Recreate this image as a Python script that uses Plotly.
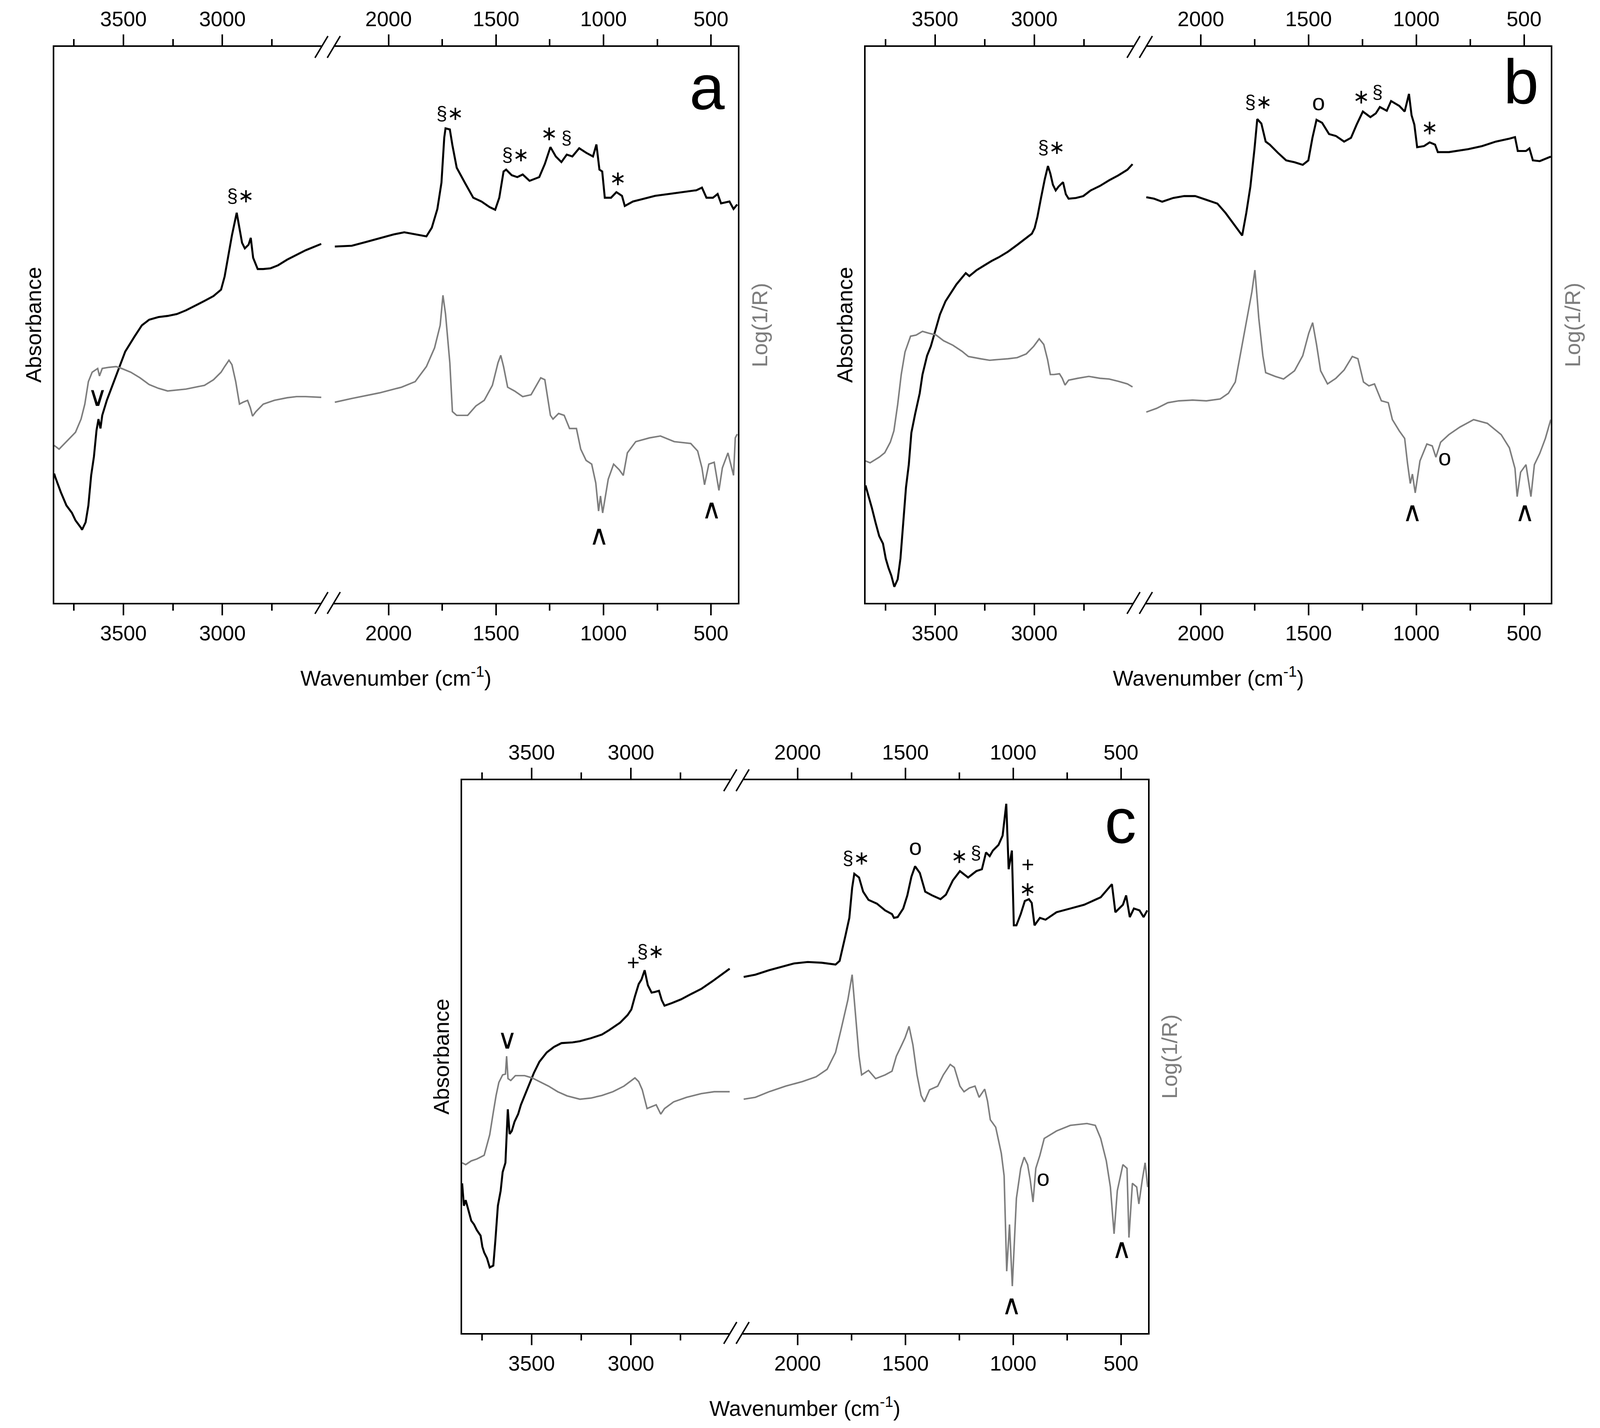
import plotly.graph_objects as go

# ---------------- DATA (wavenumber in cm-1, intensity in arbitrary units) ----------------
# Panel a
a_abs_hi_wn = [3850,3844,3816,3788,3760,3742,3714,3709,3691,3677,3663,3649,3636,3626,3616,3607,3584,3556,3528,3491,3444,3407,3370,3323,3277,3230,3184,3138,3091,3045,3007,2989,2970,2952,2928,2914,2901,2887,2868,2857,2845,2822,2794,2757,2719,2673,2626,2580,2533,2501]
a_abs_hi = [345,335,295,260,240,220,200,195,215,260,340,390,460,490,465,500,540,580,620,670,710,740,755,762,765,770,780,792,805,818,835,870,930,980,1040,1000,960,945,955,973,920,890,890,892,900,915,928,940,950,957]
a_ref_hi_wn = [3850,3825,3788,3742,3714,3695,3677,3658,3630,3621,3607,3574,3537,3509,3463,3416,3370,3323,3277,3230,3184,3138,3091,3045,3007,2989,2967,2952,2933,2914,2896,2873,2859,2848,2831,2794,2738,2673,2626,2580,2501]
a_ref_hi = [420,410,430,455,490,530,590,615,625,605,625,628,630,625,615,600,582,572,565,568,570,575,580,595,615,630,647,635,590,530,535,540,520,498,510,530,540,547,550,550,548]
a_abs_lo_wn = [2250,2171,2106,2042,1978,1927,1876,1824,1799,1773,1754,1741,1735,1715,1703,1683,1645,1606,1568,1530,1504,1485,1465,1453,1427,1401,1376,1344,1299,1273,1247,1222,1196,1171,1145,1113,1081,1049,1033,1019,1006,994,965,940,914,901,863,760,696,632,568,542,521,491,469,453,414,395,378]
a_abs_lo = [950,952,962,972,982,988,982,977,1000,1050,1120,1240,1265,1262,1220,1160,1120,1080,1070,1055,1048,1080,1150,1155,1140,1135,1142,1125,1135,1170,1215,1190,1175,1195,1190,1212,1200,1190,1222,1155,1150,1080,1080,1095,1085,1058,1070,1085,1090,1095,1100,1107,1080,1080,1090,1065,1070,1050,1062]
a_ref_lo_wn = [2250,2171,2042,1940,1876,1824,1786,1760,1747,1735,1715,1703,1683,1632,1594,1555,1517,1491,1478,1465,1446,1414,1376,1337,1292,1273,1247,1235,1209,1183,1158,1126,1106,1081,1055,1036,1023,1014,1004,978,953,927,908,889,850,786,735,671,594,562,542,530,510,485,463,447,421,408,395,387,378]
a_ref_lo = [535,545,560,575,590,630,680,740,820,770,640,510,500,500,525,540,580,640,660,630,575,565,550,555,600,595,500,490,505,500,465,465,410,380,370,320,245,285,240,330,370,355,340,400,430,440,445,430,425,405,360,315,370,375,300,360,400,370,340,440,450]

# Panel b
b_abs_hi_wn = [3850,3836,3818,3799,3781,3762,3748,3734,3720,3705,3688,3674,3660,3646,3632,3619,3600,3577,3563,3540,3521,3498,3475,3447,3419,3392,3364,3345,3327,3290,3253,3216,3179,3132,3086,3049,3012,2998,2984,2966,2947,2931,2919,2906,2892,2878,2855,2841,2827,2790,2753,2716,2669,2623,2577,2531,2505]
b_abs_hi = [313,288,253,213,178,158,118,93,73,43,63,118,218,308,368,453,503,558,608,658,683,728,768,803,826,848,866,878,870,886,898,910,920,935,953,968,983,998,1028,1078,1128,1163,1143,1113,1098,1108,1120,1088,1076,1078,1083,1098,1110,1125,1138,1153,1168]
b_ref_hi_wn = [3850,3827,3781,3753,3725,3707,3688,3670,3651,3632,3623,3595,3563,3531,3494,3457,3410,3364,3332,3271,3225,3179,3132,3086,3040,3003,2975,2952,2933,2919,2901,2873,2859,2845,2827,2781,2725,2669,2623,2577,2531,2505]
b_ref_hi = [378,373,388,400,428,458,528,608,668,698,710,713,723,718,713,698,686,670,656,650,646,648,650,653,663,683,703,688,648,608,608,610,598,580,593,598,603,598,596,590,583,575]
b_abs_lo_wn = [2253,2217,2179,2128,2077,2026,1974,1923,1885,1847,1808,1789,1770,1751,1738,1719,1699,1680,1642,1604,1565,1527,1501,1482,1463,1437,1405,1373,1335,1303,1277,1248,1213,1188,1169,1137,1117,1079,1054,1034,1022,1009,996,964,938,913,900,849,759,695,631,567,542,529,491,475,459,427,376]
b_abs_lo = [1080,1076,1068,1078,1083,1083,1073,1063,1038,1008,978,1038,1108,1208,1288,1276,1228,1220,1198,1178,1173,1166,1178,1238,1286,1278,1248,1243,1228,1238,1273,1308,1293,1303,1320,1310,1336,1323,1308,1355,1298,1273,1213,1216,1226,1220,1200,1200,1208,1216,1228,1236,1240,1203,1203,1210,1178,1176,1188]
b_ref_lo_wn = [2253,2205,2153,2102,2038,1974,1910,1872,1840,1808,1783,1763,1749,1731,1712,1699,1655,1616,1565,1527,1499,1481,1463,1444,1412,1373,1335,1297,1271,1245,1220,1194,1162,1130,1111,1079,1054,1041,1028,1018,1005,983,951,926,909,887,849,798,734,670,606,568,542,532,516,491,468,452,427,401,376]
b_ref_lo = [508,518,533,538,540,538,543,558,588,688,768,828,886,758,658,613,603,596,618,658,718,746,688,618,583,598,620,656,650,588,578,583,538,533,488,458,438,373,318,343,293,378,423,418,388,428,448,468,488,478,448,413,358,283,348,368,283,368,398,438,488]

# Panel c
c_abs_hi_wn = [3850,3841,3832,3818,3804,3790,3776,3757,3748,3739,3725,3711,3693,3683,3670,3656,3646,3632,3626,3620,3611,3600,3586,3568,3554,3535,3517,3489,3461,3424,3387,3350,3294,3257,3202,3146,3109,3054,3017,2998,2980,2961,2947,2931,2915,2896,2878,2859,2845,2831,2794,2748,2702,2646,2591,2535,2503]
c_abs_hi = [400,340,355,325,300,290,275,260,230,215,200,175,180,245,340,380,430,455,540,598,532,540,565,585,610,635,660,695,725,750,765,775,777,780,788,798,810,830,850,865,900,933,945,970,930,910,912,915,890,875,882,892,905,920,940,962,974]
c_ref_hi_wn = [3850,3832,3804,3776,3739,3711,3693,3679,3665,3646,3632,3626,3619,3605,3582,3535,3498,3461,3415,3369,3322,3257,3202,3146,3091,3035,2998,2980,2961,2943,2919,2896,2873,2850,2831,2785,2720,2646,2581,2503]
c_ref_hi = [455,450,460,465,475,530,590,635,670,690,692,740,680,675,688,688,682,672,660,645,634,625,628,635,645,660,675,682,672,650,600,605,610,585,600,618,630,640,645,645]
c_abs_lo_wn = [2250,2196,2132,2068,2017,1953,1888,1824,1805,1779,1760,1747,1737,1715,1696,1671,1632,1594,1562,1553,1536,1510,1491,1472,1455,1433,1408,1376,1337,1312,1280,1247,1209,1171,1145,1126,1109,1094,1068,1049,1032,1021,1006,997,985,965,946,927,914,901,876,850,799,735,671,594,542,526,491,476,459,440,414,395,378]
c_abs_lo = [952,958,970,980,988,992,990,985,995,1060,1110,1190,1228,1218,1180,1158,1148,1130,1120,1110,1112,1135,1170,1220,1248,1230,1180,1170,1160,1172,1210,1235,1218,1235,1240,1285,1275,1290,1305,1330,1415,1240,1290,1090,1090,1120,1155,1160,1150,1090,1110,1105,1125,1135,1145,1165,1200,1125,1145,1170,1112,1135,1130,1112,1130]
c_ref_lo_wn = [2250,2196,2132,2055,1978,1914,1863,1824,1799,1767,1747,1732,1715,1703,1671,1638,1594,1562,1542,1517,1501,1483,1465,1446,1427,1412,1388,1350,1324,1292,1273,1247,1228,1203,1177,1158,1132,1119,1106,1081,1055,1042,1030,1017,1004,985,965,949,933,921,908,895,876,856,799,735,658,619,594,568,549,532,517,491,472,463,447,427,417,401,388,376]
c_ref_lo = [625,630,645,660,672,685,705,750,810,890,958,860,740,690,702,680,690,700,740,770,790,820,770,690,635,618,650,660,690,718,710,660,645,655,660,630,652,620,570,550,480,420,165,290,125,360,440,470,450,410,350,440,475,520,540,555,560,555,520,460,390,265,380,450,440,255,400,390,345,410,455,390]

# Axis ticks
HI_MAJOR = [3500, 3000]
HI_MINOR = [3750, 3250, 2750]
LO_MAJOR = [2000, 1500, 1000, 500]
LO_MINOR = [1750, 1250, 750]

# Peak markers: (panel, segment, wavenumber, intensity, symbol)
MARKS = [
    ('a', 'hi', 3632, 550, '∨'), ('a', 'hi', 2908, 1085, '§∗'),
    ('a', 'lo', 1715, 1305, '§∗'), ('a', 'lo', 1408, 1195, '§∗'), ('a', 'lo', 1254, 1252, '∗'),
    ('a', 'lo', 1171, 1240, '§'), ('a', 'lo', 933, 1132, '∗'), ('a', 'lo', 1021, 180, '∧'), ('a', 'lo', 497, 250, '∧'),
    ('b', 'hi', 2912, 1213, '§∗'), ('b', 'lo', 1731, 1333, '§∗'), ('b', 'lo', 1454, 1333, 'o'),
    ('b', 'lo', 1256, 1348, '∗'), ('b', 'lo', 1179, 1360, '§'), ('b', 'lo', 938, 1266, '∗'),
    ('b', 'lo', 868, 388, 'o'), ('b', 'lo', 1019, 243, '∧'), ('b', 'lo', 497, 243, '∧'),
    ('c', 'hi', 3623, 785, '∨'), ('c', 'hi', 2989, 990, '+'), ('c', 'hi', 2901, 1020, '§∗'),
    ('c', 'lo', 1728, 1270, '§∗'), ('c', 'lo', 1453, 1300, 'o'), ('c', 'lo', 1250, 1275, '∗'),
    ('c', 'lo', 1173, 1285, '§'), ('c', 'lo', 933, 1252, '+'), ('c', 'lo', 933, 1188, '∗'),
    ('c', 'lo', 860, 415, 'o'), ('c', 'lo', 1008, 75, '∧'), ('c', 'lo', 497, 225, '∧'),
]
LETTERS = [('a', 517, 1375), ('b', 514, 1388), ('c', 503, 1370)]

DATA = {
    'a': dict(abs_hi=(a_abs_hi_wn, a_abs_hi), abs_lo=(a_abs_lo_wn, a_abs_lo),
              ref_hi=(a_ref_hi_wn, a_ref_hi), ref_lo=(a_ref_lo_wn, a_ref_lo)),
    'b': dict(abs_hi=(b_abs_hi_wn, b_abs_hi), abs_lo=(b_abs_lo_wn, b_abs_lo),
              ref_hi=(b_ref_hi_wn, b_ref_hi), ref_lo=(b_ref_lo_wn, b_ref_lo)),
    'c': dict(abs_hi=(c_abs_hi_wn, c_abs_hi), abs_lo=(c_abs_lo_wn, c_abs_lo),
              ref_hi=(c_ref_hi_wn, c_ref_hi), ref_lo=(c_ref_lo_wn, c_ref_lo)),
}

# ---------------- LAYOUT ----------------
S = 1 / 1.08   # pixel scale (figure fills the browser viewport)
PANEL_BOX = {'a': (0.0320, 0.4610, 0.5781, 0.9692),
             'b': (0.5411, 0.9712, 0.5781, 0.9692),
             'c': (0.2880, 0.7183, 0.0647, 0.4534)}
Y_TOP = {'a': 1482, 'b': 1480, 'c': 1478}
HI_RANGE = [3850, 2500]
LO_RANGE = [2255, 375]
SPLIT = (0.391, 0.409)
FONT = "Arial, 'Liberation Sans', 'DejaVu Sans', sans-serif"
BLACK = '#000000'
GRAY = '#7d7d7d'
RW, RH = 4413.0, 3655.0   # reference picture size, for paper-fraction offsets

SYM_SIZE = {'∧': 76, '∨': 76, 'o': 64, '+': 60, '∗': 56, '§': 52, '§∗': 54}


def ref(prefix, n):
    return prefix if n == 1 else f"{prefix}{n}"


def key(prefix, n):
    return f"{prefix}axis" if n == 1 else f"{prefix}axis{n}"


fig = go.Figure()
layout = {}
annotations = []
shapes = []

common_x = dict(showline=True, linecolor='black', linewidth=4 * S, ticks='outside', ticklen=30 * S,
                tickwidth=4 * S, tickcolor='black', showgrid=False, zeroline=False,
                tickfont=dict(family=FONT, size=58 * S, color='black'), autorange=False,
                tickmode='array', fixedrange=True)
common_y = dict(showline=True, linecolor='black', linewidth=4 * S, ticks='', showticklabels=False,
                showgrid=False, zeroline=False, autorange=False, fixedrange=True)

for i, p in enumerate('abc'):
    x0, x1, y0, y1 = PANEL_BOX[p]
    w = x1 - x0
    dom_hi = [x0, x0 + SPLIT[0] * w]
    dom_lo = [x0 + SPLIT[1] * w, x1]
    nb_hi, nb_lo, nt_hi, nt_lo = 4 * i + 1, 4 * i + 2, 4 * i + 3, 4 * i + 4
    nyl, nyr = 2 * i + 1, 2 * i + 2
    seg_bottom = {'hi': nb_hi, 'lo': nb_lo}
    seg_top = {'hi': nt_hi, 'lo': nt_lo}

    for nb, nt, dom, rng, maj, mnr in [(nb_hi, nt_hi, dom_hi, HI_RANGE, HI_MAJOR, HI_MINOR),
                                        (nb_lo, nt_lo, dom_lo, LO_RANGE, LO_MAJOR, LO_MINOR)]:
        minor = dict(tickmode='array', tickvals=mnr, ticks='outside', ticklen=17 * S,
                     tickwidth=4 * S, tickcolor='black', showgrid=False)
        layout[key('x', nb)] = dict(common_x, domain=dom, range=rng, tickvals=maj,
                                    ticktext=[str(v) for v in maj], minor=minor,
                                    anchor=ref('y', nyl), side='bottom')
        layout[key('x', nt)] = dict(common_x, domain=dom, range=rng, tickvals=maj,
                                    ticktext=[str(v) for v in maj], minor=minor,
                                    anchor=ref('y', nyl), side='top', overlaying=ref('x', nb))

    layout[key('y', nyl)] = dict(common_y, domain=[y0, y1], range=[0, Y_TOP[p]],
                                 anchor=ref('x', nb_hi), side='left')
    layout[key('y', nyr)] = dict(common_y, domain=[y0, y1], range=[0, Y_TOP[p]],
                                 anchor=ref('x', nb_lo), side='right', overlaying=ref('y', nyl))

    d = DATA[p]
    for name, (xs, ys) in d.items():
        kind, s = name.split('_')
        is_abs = kind == 'abs'
        fig.add_trace(go.Scatter(
            x=xs, y=ys, mode='lines',
            xaxis=ref('x', seg_bottom[s] if is_abs else seg_top[s]),
            yaxis=ref('y', nyl if is_abs else nyr),
            line=dict(color=BLACK if is_abs else GRAY, width=(5.5 if is_abs else 4.2) * S),
            showlegend=False, hoverinfo='skip'))

    # axis titles
    annotations.append(dict(xref='paper', yref='paper', x=(x0 + x1) / 2, y=y0 - 190 / RH,
                            text='Wavenumber (cm<sup>-1</sup>)', showarrow=False,
                            xanchor='center', yanchor='middle',
                            font=dict(family=FONT, size=60 * S, color='black')))
    annotations.append(dict(xref='paper', yref='paper', x=x0 - 57 / RW, y=(y0 + y1) / 2,
                            text='Absorbance', showarrow=False, textangle=-90,
                            xanchor='center', yanchor='middle',
                            font=dict(family=FONT, size=60 * S, color='black')))
    annotations.append(dict(xref='paper', yref='paper', x=x1 + 60 / RW, y=(y0 + y1) / 2,
                            text='Log(1/R)', showarrow=False, textangle=-90,
                            xanchor='center', yanchor='middle',
                            font=dict(family=FONT, size=60 * S, color=GRAY)))

    # axis break marks
    for xb in (dom_hi[1], dom_lo[0]):
        for yb in (y0, y1):
            shapes.append(dict(type='line', xref='paper', yref='paper',
                               x0=xb - 18 / RW, y0=yb - 28 / RH, x1=xb + 18 / RW, y1=yb + 28 / RH,
                               line=dict(color='black', width=4 * S)))

    # peak markers
    for (pp, s, wn, yv, sym) in MARKS:
        if pp != p:
            continue
        if sym in ('∧', '∨'):
            fnt = dict(family="'DejaVu Sans', sans-serif", size=SYM_SIZE[sym] * S,
                       color='black', weight=200)
        else:
            fnt = dict(family=FONT, size=SYM_SIZE[sym] * S, color='black')
        annotations.append(dict(xref=ref('x', seg_bottom[s]), yref=ref('y', nyl), x=wn, y=yv,
                                text=sym, showarrow=False, xanchor='center', yanchor='middle',
                                font=fnt))
    for (pp, wn, yv) in LETTERS:
        if pp != p:
            continue
        annotations.append(dict(xref=ref('x', nb_lo), yref=ref('y', nyl), x=wn, y=yv,
                                text=pp, showarrow=False, xanchor='center', yanchor='middle',
                                font=dict(family=FONT, size=175 * S, color='black')))

fig.update_layout(**layout)
fig.update_layout(autosize=True, margin=dict(l=0, r=0, t=0, b=0),
                  plot_bgcolor='white', paper_bgcolor='white',
                  annotations=annotations, shapes=shapes, showlegend=False)

fig.write_html("out.html", default_width="100%", default_height="calc(100vh - 16px)")
